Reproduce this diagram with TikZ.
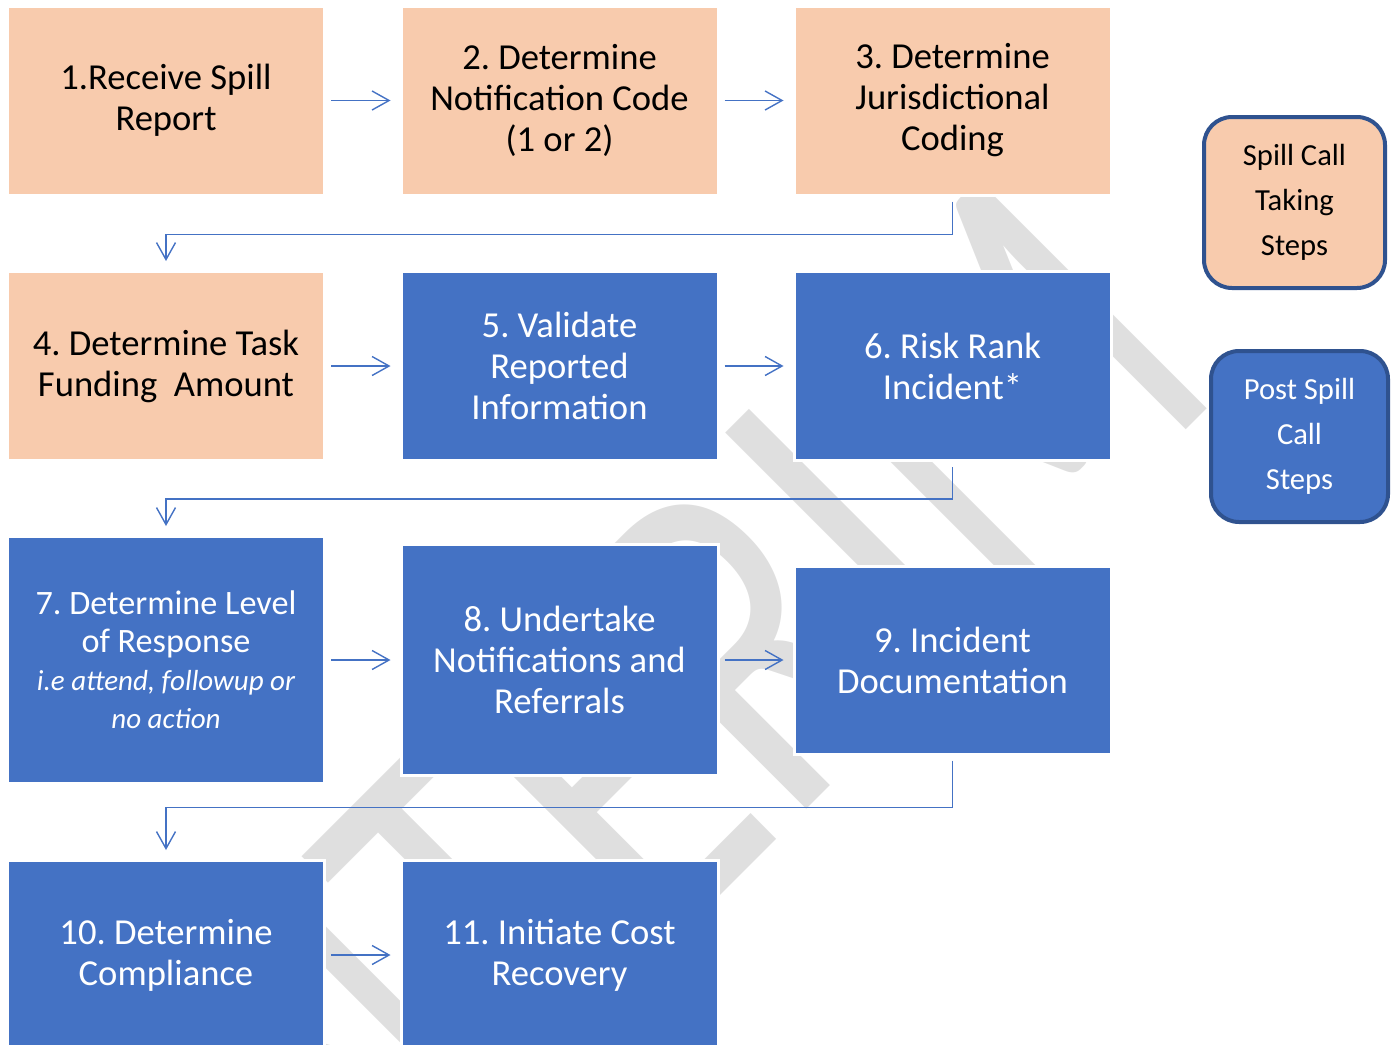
\documentclass[tikz,border=0pt]{standalone}
\usepackage{fontspec}
\setmainfont{Carlito}
\usepackage{tikz}
\usetikzlibrary{positioning,arrows.meta}
\definecolor{peachfill}{HTML}{F8CBAD}
\definecolor{stepblue}{HTML}{4472C4}
\definecolor{keyline}{HTML}{2F528F}
\definecolor{draftgray}{HTML}{DFDFDF}
\newcommand\notefont{\fontsize{14.5}{16}\selectfont\itshape}
\frenchspacing

\begin{document}
\begin{tikzpicture}[x=0.5pt, y=-0.5pt,
    stepbox/.style={rectangle, draw=white, line width=1.5pt, minimum width=158.5pt, minimum height=94.5pt, inner sep=0pt, align=center, font=\fontsize{18.3}{20.5}\selectfont},
    callstep/.style={stepbox, fill=peachfill, text=black},
    poststep/.style={stepbox, fill=stepblue, text=white},
    keybox/.style={rectangle, rounded corners=14pt, draw=keyline, line width=2pt, minimum width=90.5pt, minimum height=85.5pt, inner sep=0pt, align=center, font=\fontsize{15.3}{22.5}\selectfont},
    flow/.style={draw=stepblue, line width=0.7pt, -{Straight Barb[length=8.5pt,width=9.5pt]}, shorten <=2.5pt, shorten >=4.5pt}]

\useasboundingbox (0,0) rectangle (1396,1044);
\clip (0,0) rectangle (1396,1044);

% Watermark
\node[text=draftgray, inner sep=0pt, anchor=base west, rotate=45, xscale=0.75, font=\fontsize{252}{252}\selectfont] (interim) at (287,1329) {INTERIM};

% Spill call taking steps
\node[callstep] (receive) at (166,100.5) {1.Receive Spill\\Report};
\node[callstep] (notify) at (559.5,100.5) {2. Determine\\Notification Code\\(1 or 2)};
\node[callstep] (jurisdiction) at (952.5,100.5) {3. Determine\\Jurisdictional\\Coding};
\node[callstep] (funding) at (166,366) {4. Determine Task\\Funding~~Amount};

% Post spill call steps
\node[poststep] (validate) at (559.5,366) {5. Validate\\Reported\\Information};
\node[poststep] (risk) at (952.5,366) {6. Risk Rank\\Incident*};
\node[poststep, minimum height=123.5pt, font=\fontsize{17.1}{19}\selectfont] (response) at (166,660)
    {7. Determine Level\\of Response\\{\notefont i.e attend, followup or}\\{\notefont no action}};
\node[poststep, minimum height=115.5pt] (referrals) at (559.5,660) {8. Undertake\\Notifications and\\Referrals};
\node[poststep, minimum height=94pt] (document) at (952.5,660) {9. Incident\\Documentation};
\node[poststep] (compliance) at (166,955) {10. Determine\\Compliance};
\node[poststep] (recovery) at (559.5,955) {11. Initiate Cost\\Recovery};

% Key
\node[keybox, fill=peachfill] (keycall) at (1294.5,202.5) {Spill Call\\Taking\\Steps};
\node[keybox, fill=stepblue, text=white, minimum width=88.5pt] (keypost) at (1299.5,436.5) {Post Spill\\Call\\Steps};

% Arrows
\draw[flow] (receive) -- (notify);
\draw[flow] (notify) -- (jurisdiction);
\draw[flow, shorten <=2.5pt, shorten >=4.5pt] (jurisdiction.south) -- ++(0,38) -| (funding.north);
\draw[flow] (funding) -- (validate);
\draw[flow] (validate) -- (risk);
\draw[flow, shorten <=2.5pt, shorten >=4.5pt] (risk.south) -- ++(0,37) -| (response.north);
\draw[flow] (response) -- (referrals);
\draw[flow] (referrals) -- (document);
\draw[flow, shorten <=2.5pt, shorten >=4.5pt] (document.south) -- ++(0,52) -| (compliance.north);
\draw[flow] (compliance) -- (recovery);
\end{tikzpicture}
\end{document}
